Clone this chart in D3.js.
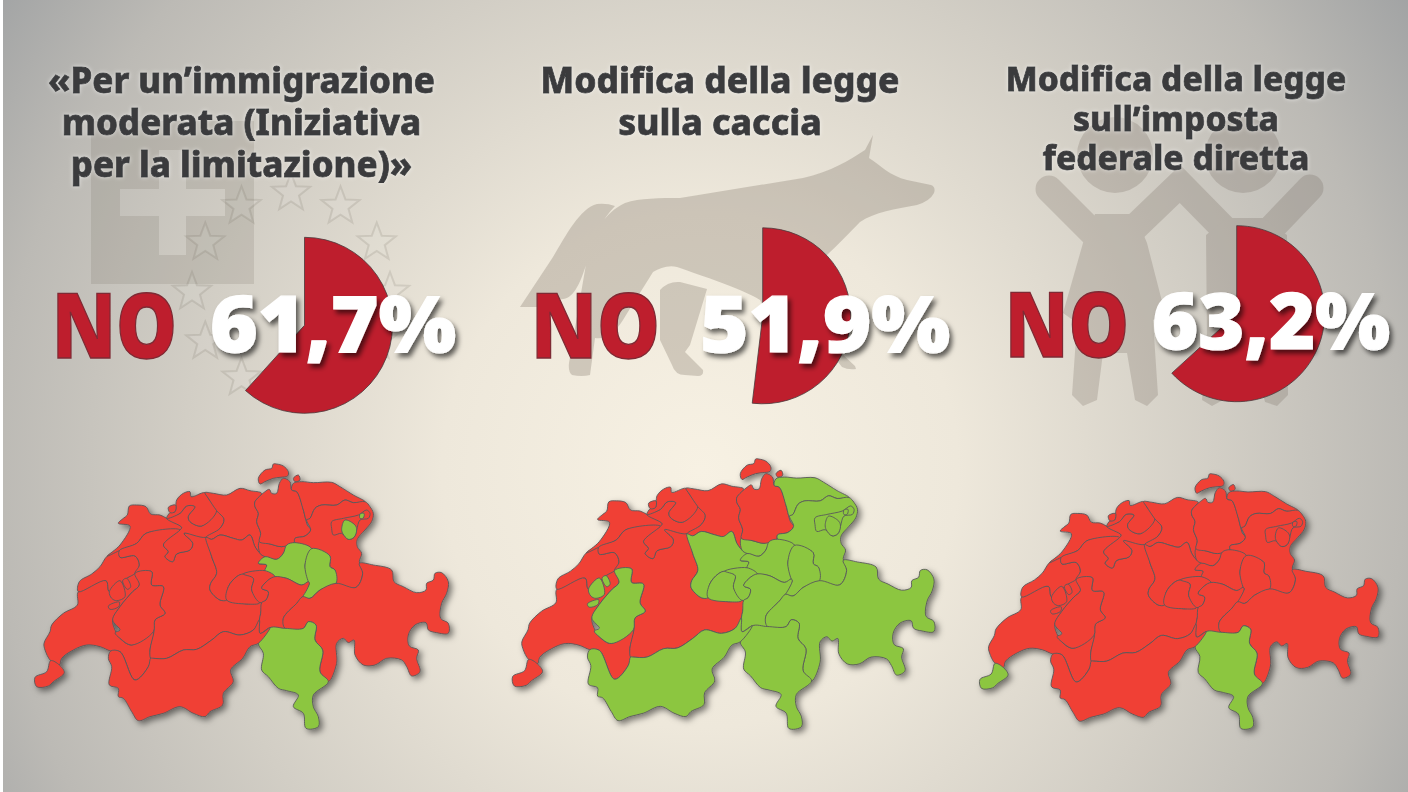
<!DOCTYPE html>
<html lang="it">
<head>
<meta charset="UTF-8" />
<title>Votazioni federali</title>
<script src="https://d3js.org/d3.v7.min.js"></script>
<style>
  body { margin: 0; background: #fff; overflow: hidden; }
  svg { display: block; }
  text { font-family: "Noto Sans", sans-serif; }
  .title { font-weight: 800; fill: #3a3b3d; stroke: #3a3b3d; stroke-width: .8px; text-anchor: middle; filter: url(#titleGlow); }
  .no { font-size: 90px; font-weight: 900; fill: #be1e2d; stroke: #7e2a34; stroke-width: 1.4px; }
  .pct { font-size: 78px; font-weight: 900; fill: #fff; stroke: #fff; stroke-width: 1.2px; filter: url(#pctShadow); }
</style>
</head>
<body>
<div id="chart"></div>
<script>
  // values
  const votes = ["immigrazione", "caccia", "imposta"];
  const noShare = [61.7, 51.9, 63.2];
  const pctLabels = ["61,7%", "51,9%", "63,2%"];
  const titles = [
    ["«Per un’immigrazione", "moderata (Iniziativa", "per la limitazione)»"],
    ["Modifica della legge", "sulla caccia"],
    ["Modifica della legge", "sull’imposta", "federale diretta"]
  ];
  // cantons that voted yes in each ballot, all the others are red
  const yesCantons = [
    ["TI", "SZ", "GL", "AI", "AI2"],
    ["FR", "FR2", "FR3", "FR4", "VS", "TI", "GR", "UR", "SZ", "GL", "ZG", "LU", "OW", "NW", "TG", "SG", "AR", "AI", "AI2"],
    ["GE", "TI"]
  ];

  // canton outlines, in the units of the map (1350 x 870)
  const cantonNames = ["VD", "GE", "NE", "JU", "BE", "FR", "FR2", "FR3", "FR4", "SO", "BL", "BS", "AG", "LU", "ZG", "ZH", "SH", "SH2",
    "TG", "SG", "AR", "AI", "AI2", "SZ", "GL", "OW", "NW", "UR", "GR", "TI", "VS"];
  const cantonShapes = [
    [[92,632],[75,600],[72,580],[90,545],[95,525],[130,490],[172,465],[175,425],[258,392],[268,425],[320,385],[345,370],[358,405],[338,425],[320,445],[300,470],[278,510],[285,540],[300,565],[335,585],[400,545],[390,600],[392,625],[385,650],[345,690],[300,605],[272,603],[240,590],[200,585],[160,600],[125,625],[118,645]],
    [[45,682],[80,665],[92,632],[118,645],[133,668],[100,695],[85,708],[50,710]],
    [[175,425],[178,395],[215,372],[240,350],[262,318],[298,302],[300,322],[345,318],[358,345],[345,370],[320,385],[268,425],[258,392]],
    [[295,220],[310,205],[322,195],[328,168],[350,165],[378,170],[392,192],[420,195],[440,205],[485,232],[480,240],[378,250],[350,280],[298,302],[262,318],[300,285],[330,228]],
    [[298,302],[350,280],[378,250],[480,240],[430,285],[445,305],[435,320],[458,335],[470,312],[510,300],[518,280],[492,250],[558,262],[575,320],[590,370],[572,400],[570,420],[600,450],[620,450],[680,462],[725,458],[722,490],[718,510],[700,540],[660,555],[610,545],[575,570],[530,598],[490,600],[440,625],[400,625],[392,625],[390,600],[402,545],[405,510],[435,490],[420,465],[430,410],[395,405],[395,365],[345,370],[358,345],[345,318],[300,322]],
    [[345,370],[395,365],[395,405],[430,410],[420,465],[435,490],[405,510],[400,545],[335,585],[300,565],[285,548],[300,540],[278,510],[300,470],[320,445],[338,425],[358,405]],
    [[268,425],[300,392],[315,440],[290,452],[275,445]],
    [[265,468],[298,456],[296,470],[270,478]],
    [[308,392],[320,385],[332,410],[322,418]],
    [[485,232],[440,205],[480,190],[500,168],[525,170],[505,200],[510,215],[545,228],[590,182],[612,208],[600,235],[558,262],[492,250],[518,280],[510,300],[470,312],[458,335],[435,320],[445,305],[430,285],[480,240]],
    [[440,205],[450,188],[465,185],[470,150],[490,130],[510,125],[513,140],[555,128],[565,145],[590,182],[545,228],[510,215],[505,200],[525,170],[500,168],[480,190]],
    [[445,172],[467,165],[465,185],[450,188]],
    [[555,128],[580,130],[620,135],[660,115],[690,122],[725,130],[705,155],[705,170],[715,190],[710,215],[722,250],[718,275],[720,310],[705,290],[690,255],[665,270],[640,265],[600,255],[575,268],[558,262],[600,235],[612,208],[590,182],[565,145]],
    [[558,262],[575,268],[600,255],[640,265],[665,270],[690,255],[705,290],[720,310],[735,320],[715,340],[740,345],[735,362],[670,372],[650,380],[625,410],[620,450],[600,450],[570,420],[572,400],[590,370],[575,320]],
    [[718,275],[750,282],[785,290],[800,285],[790,310],[770,328],[735,320],[720,310]],
    [[705,155],[735,125],[748,118],[755,130],[770,130],[778,100],[790,85],[810,95],[815,120],[830,125],[845,160],[855,200],[862,225],[872,240],[855,258],[825,265],[822,278],[785,290],[750,282],[718,275],[722,250],[710,215],[715,190],[705,170]],
    [[715,85],[735,60],[755,55],[760,42],[770,42],[790,48],[805,65],[803,78],[780,82],[760,85],[735,95],[720,102]],
    [[820,85],[835,75],[840,90],[825,95]],
    [[815,120],[820,100],[845,95],[880,98],[935,97],[960,110],[1000,135],[1035,155],[1000,158],[975,150],[950,165],[905,165],[885,175],[870,205],[860,210],[850,180],[830,125]],
    [[1035,155],[1050,170],[1060,190],[1055,215],[1035,240],[1012,268],[1012,290],[1025,310],[1018,335],[1028,370],[1008,412],[950,403],[945,360],[930,350],[930,318],[875,296],[825,278],[825,265],[855,258],[872,240],[860,210],[870,205],[885,175],[905,165],[950,165],[975,150],[1000,158]],
    [[935,215],[970,205],[1015,195],[1040,180],[1050,190],[1045,205],[1020,210],[1010,240],[1002,262],[985,268],[965,250],[940,255],[935,235]],
    [[975,210],[1005,225],[1010,240],[1002,262],[985,268],[968,250],[965,235]],
    [[1020,192],[1032,190],[1030,204],[1020,205]],
    [[715,340],[735,320],[770,328],[790,310],[800,285],[825,278],[875,296],[855,345],[865,395],[845,405],[800,385],[765,380],[735,362],[740,345]],
    [[875,296],[930,318],[930,350],[945,360],[948,400],[900,420],[870,445],[848,440],[868,400],[865,395],[855,345]],
    [[620,450],[625,410],[650,380],[670,372],[700,385],[695,420],[720,458],[680,462]],
    [[670,372],[735,362],[765,380],[745,390],[725,415],[745,425],[738,450],[720,458],[695,420],[700,385]],
    [[765,380],[800,385],[845,405],[865,395],[868,400],[848,440],[830,460],[790,505],[795,535],[750,533],[720,550],[718,510],[722,490],[725,458],[738,450],[745,425],[725,415],[745,390]],
    [[790,505],[830,460],[848,440],[870,445],[900,420],[948,400],[1008,412],[1028,370],[1018,340],[1060,345],[1115,360],[1122,395],[1150,410],[1190,428],[1218,420],[1220,400],[1240,390],[1245,370],[1265,368],[1285,395],[1280,430],[1265,460],[1262,505],[1285,520],[1285,550],[1250,548],[1225,540],[1218,518],[1185,525],[1165,555],[1168,588],[1195,600],[1190,625],[1200,665],[1175,678],[1160,650],[1145,630],[1100,625],[1065,645],[1030,645],[1005,615],[1002,570],[985,578],[970,565],[950,580],[950,640],[925,695],[900,665],[908,600],[885,570],[888,525],[865,515],[850,535],[795,535]],
    [[750,533],[795,535],[850,535],[865,515],[888,525],[885,570],[908,600],[900,665],[925,695],[880,735],[880,770],[895,800],[895,830],[858,835],[850,790],[820,770],[835,735],[800,722],[775,715],[745,680],[725,660],[730,610],[715,580]],
    [[392,625],[400,625],[440,625],[490,600],[530,598],[575,570],[610,545],[660,555],[700,540],[718,510],[720,550],[750,533],[715,580],[690,590],[668,625],[632,660],[640,695],[610,730],[608,765],[570,785],[555,800],[520,790],[480,770],[430,790],[390,800],[355,812],[335,785],[310,745],[295,740],[295,715],[268,705],[275,650],[265,625],[272,603],[300,605],[345,690],[385,650]]
  ];

  const width = 1408, height = 792;
  const colYes = "#8cc63f", colNo = "#f04036", colPie = "#be1e2d";

  // where each panel sits on the page
  const titleX = [241.5, 720, 1176];
  const titleSize = [34.8, 35.3, 33.5];
  const titleY = [[93, 135, 177], [93, 135], [91, 131, 170]];
  const noX = [52, 531, 1005];
  const noY = [358, 358, 357];
  const noW = [125, 129, 124];
  const pctX = [210, 700, 1152];
  const pctY = [352, 352, 349];
  const pctW = [246, 250, 238];
  const pieX = [304.5, 762.7, 1236.7];
  const pieY = [325.3, 315.8, 313.7];
  const pieR = 88;
  const mapX = [20, 497.4, 965.5];
  const mapY = [450, 444.8, 460.5];
  const mapK = [1 / 3, 0.3397, 0.321];

  const svg = d3.select("#chart").append("svg")
    .attr("width", width)
    .attr("height", height);

  const defs = svg.append("defs");
  const bgGrad = defs.append("radialGradient")
    .attr("id", "bgGrad")
    .attr("gradientUnits", "userSpaceOnUse")
    .attr("cx", 700).attr("cy", 470).attr("r", 860);
  [[0, "#f7f1e3"], [0.3, "#eee8db"], [0.6, "#d2cec5"], [0.82, "#bcbab5"], [1, "#a0a2a3"]].forEach(s => {
    bgGrad.append("stop").attr("offset", s[0]).attr("stop-color", s[1]);
  });

  function addShadow(id, dx, dy, blur, color, alpha) {
    defs.append("filter").attr("id", id)
      .attr("x", "-10%").attr("y", "-15%").attr("width", "125%").attr("height", "135%")
      .append("feDropShadow")
      .attr("dx", dx).attr("dy", dy).attr("stdDeviation", blur)
      .attr("flood-color", color).attr("flood-opacity", alpha);
  }
  addShadow("mapShadow", 3, 3, 3, "#000", 0.5);
  addShadow("pctShadow", 3, 4, 2.5, "#000", 0.6);
  addShadow("titleGlow", 0, 0, 2, "#fff", 0.6);

  svg.append("rect").attr("x", 3).attr("y", 0).attr("width", width - 3).attr("height", height).attr("fill", "url(#bgGrad)");

  // background icons
  const icons = svg.append("g").attr("fill", "#5f5248");

  // swiss flag
  const flag = { x: 172.5, y: 202.5, half: 81.5, arm: 52.5, bar: 13.5 };
  icons.append("path")
    .attr("fill-rule", "evenodd")
    .attr("opacity", 0.14)
    .attr("d", () => {
      const f = flag, a = f.arm, b = f.bar;
      return `M${f.x - f.half},${f.y - f.half}h${2 * f.half}v${2 * f.half}h${-2 * f.half}Z` +
        `M${f.x - b},${f.y - a}h${2 * b}v${a - b}h${a - b}v${2 * b}h${b - a}v${a - b}h${-2 * b}v${b - a}h${b - a}v${-2 * b}h${a - b}Z`;
    });

  // EU stars
  const starCentre = [291, 292], starOrbit = 99, starR = 20;
  const starPath = d3.lineRadial().radius((d, i) => i % 2 ? starR * 0.42 : starR).angle((d, i) => i * Math.PI / 5).curve(d3.curveLinearClosed);
  icons.selectAll(".star").data(d3.range(12)).enter().append("path")
    .attr("class", "star")
    .attr("d", starPath(d3.range(10)))
    .attr("transform", d => `translate(${starCentre[0] + starOrbit * Math.sin(d * Math.PI / 6)},${starCentre[1] - starOrbit * Math.cos(d * Math.PI / 6)})`)
    .attr("fill", "#fff").attr("fill-opacity", 0.06)
    .attr("stroke", "#5f5248").attr("stroke-opacity", 0.14).attr("stroke-width", 2);

  // wolf
  const wolfIcon = "M873,135 L869,158 C880,165 890,176 907,180 L931,185 Q936,187 934,193 Q930,201 917,205 C895,209 875,212 860,222 C850,232 838,245 827,255 L827,340 L855,366 L856,369 Q848,370 842,367 L825,345 L780,340 L760,300 C745,290 700,275 677,267 C668,265 660,268 653,272 C645,285 635,300 623,320 C615,332 607,340 595,338 L590,375 Q582,377 572,375 Q568,372 569,363 L585,270 C590,240 600,215 625,203 C640,198 660,198 680,198 L803,178 C830,172 850,160 865,150 Z M660,290 Q668,281 680,282 L707,289 L690,345 L685,352 L703,370 Q704,376 698,376 L685,375 Q675,375 672,365 L660,340 Z M520,307 L553,257 C565,237 580,208 597,204 Q607,203 615,206 C600,222 592,240 586,265 C578,290 570,305 553,297 L540,307 Z";
  icons.append("path").attr("d", wolfIcon).attr("opacity", 0.24);

  // two children
  const kids = icons.append("g").attr("opacity", 0.2);
  kids.selectAll("circle").data([[1115, 155], [1243, 155]]).enter().append("circle")
    .attr("cx", d => d[0]).attr("cy", d => d[1]).attr("r", 38);
  kids.append("path")
    .attr("fill", "none").attr("stroke", "#5f5248").attr("stroke-width", 27).attr("stroke-linecap", "round")
    .attr("d", "M1049,189L1110,250M1130,232L1180,184L1235,240M1265,235L1310,188");
  kids.append("path").attr("d", "M1095,214H1135L1147,243L1165,313L1153,320L1158,395L1147,406L1135,400L1127,353H1103L1097,400L1083,406L1072,395L1077,323L1063,313L1083,243Z");
  kids.append("path").attr("d", "M1206,235L1227,218H1263L1287,235L1288,395L1277,406L1265,402L1253,353H1240L1223,400L1212,406L1202,400L1207,340Z");

  // pies
  const arc = d3.arc().innerRadius(0).outerRadius(pieR);
  noShare.forEach((v, i) => {
    const pie = d3.pie().sort(null).startAngle(0).endAngle(2 * Math.PI)([v, 100 - v]);
    svg.append("path")
      .attr("class", "pie " + votes[i])
      .attr("d", arc(pie[0]))
      .attr("transform", `translate(${pieX[i]},${pieY[i]})`)
      .attr("fill", colPie)
      .attr("stroke", "#4a3a3c").attr("stroke-width", 0.8);
  });

  // headings and numbers
  titles.forEach((lines, i) => {
    svg.append("text").attr("class", "title")
      .style("font-size", titleSize[i] + "px")
      .selectAll("tspan").data(lines).enter().append("tspan")
      .attr("x", titleX[i])
      .attr("y", (d, j) => titleY[i][j])
      .text(d => d);
    svg.append("text").attr("class", "no").attr("x", noX[i]).attr("y", noY[i])
      .attr("textLength", noW[i]).attr("lengthAdjust", "spacingAndGlyphs").text("NO");
    svg.append("text").attr("class", "pct").attr("x", pctX[i]).attr("y", pctY[i])
      .attr("textLength", pctW[i]).attr("lengthAdjust", "spacingAndGlyphs").text(pctLabels[i]);
  });

  // maps
  votes.forEach((vote, i) => {
    const x = d3.scaleLinear().domain([0, 1350]).range([mapX[i], mapX[i] + 1350 * mapK[i]]);
    const y = d3.scaleLinear().domain([0, 870]).range([mapY[i], mapY[i] + 870 * mapK[i]]);
    const line = d3.line().x(d => x(d[0])).y(d => y(d[1])).curve(d3.curveCatmullRomClosed.alpha(0.5));
    svg.append("g")
      .attr("class", "map " + vote)
      .attr("filter", "url(#mapShadow)")
      .selectAll("path")
      .data(cantonShapes)
      .enter().append("path")
      .attr("d", d => line(d))
      .attr("fill", (d, j) => yesCantons[i].includes(cantonNames[j]) ? colYes : colNo)
      .attr("stroke", "#59595b")
      .attr("stroke-width", 0.9)
      .attr("stroke-linejoin", "round");
  });
</script>
</body>
</html>
